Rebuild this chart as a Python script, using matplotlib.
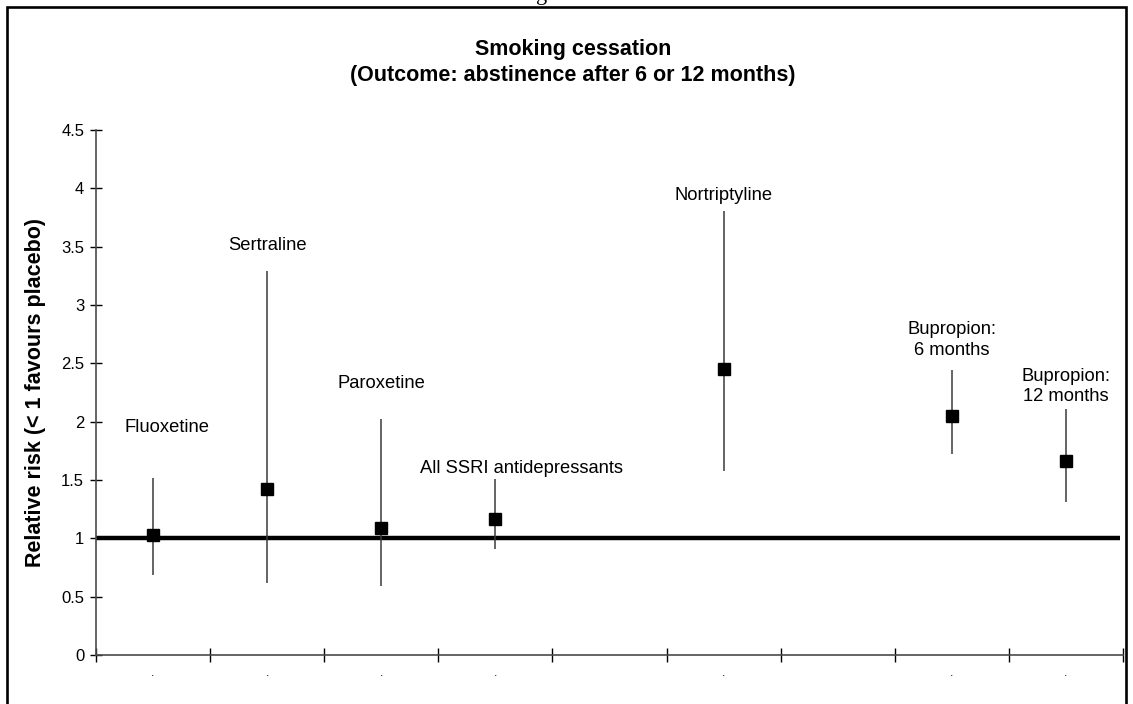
import matplotlib
matplotlib.use("Agg")
import matplotlib.pyplot as plt
from matplotlib.patches import Rectangle

plt.rcParams["font.family"] = ["Liberation Sans", "DejaVu Sans"]

# Relative risk of abstinence vs placebo, with 95% confidence limits
drugs = ["Fluoxetine", "Sertraline", "Paroxetine", "All SSRI antidepressants",
         "Nortriptyline", "Bupropion:\n6 months", "Bupropion:\n12 months"]
slots = [0, 1, 2, 3, 5, 7, 8]          # category slot of each drug (9 slots)
n_slots = 9
rr = [1.03, 1.42, 1.09, 1.17, 2.45, 2.05, 1.66]
ci_low = [0.69, 0.62, 0.59, 0.91, 1.58, 1.72, 1.31]
ci_high = [1.52, 3.29, 2.02, 1.51, 3.81, 2.44, 2.11]
y_ticks = [0, 0.5, 1, 1.5, 2, 2.5, 3, 3.5, 4, 4.5]
y_tick_labels = ["0", "0.5", "1", "1.5", "2", "2.5", "3", "3.5", "4", "4.5"]
no_effect = 1.0

# where each drug name sits (slot, relative-risk units)
label_xy = [(0.12, 1.95), (1.0, 3.51), (2.0, 2.33), (3.23, 1.60),
            (5.0, 3.94), (7.0, 2.70), (8.0, 2.30)]

W, H = 1133, 704
fig = plt.figure(figsize=(W / 100, H / 100), dpi=100)
ax = fig.add_axes([96 / W, 49 / H, 1027 / W, 525 / H])

# no-effect reference line
ax.plot([-0.5, 8.47], [no_effect, no_effect], color="black", lw=3.2,
        solid_capstyle="butt", zorder=2)

# confidence intervals and point estimates
ax.vlines(slots, ci_low, ci_high, color="#3a3a3a", lw=1.1, zorder=3)
ax.plot(slots, rr, linestyle="none", marker="s", markersize=8.8,
        color="black", zorder=4)

for name, (lx, ly) in zip(drugs, label_xy):
    ax.text(lx, ly, name, ha="center", va="center", fontsize=13.2,
            color="black", linespacing=1.25)

ax.set_xlim(-0.5, n_slots - 0.5)
ax.set_ylim(0, 4.5)

ax.set_yticks(y_ticks)
ax.set_yticklabels(y_tick_labels)
ax.tick_params(axis="y", direction="inout", length=9, width=1,
               labelsize=12, pad=4, colors="black")

# category boundaries carry the ticks; centres carry the (blank) labels
ax.set_xticks([i - 0.5 for i in range(n_slots + 1)])
ax.set_xticklabels([])
ax.set_xticks(list(range(n_slots)), minor=True)
ax.set_xticklabels(["." if i in slots else "" for i in range(n_slots)],
                   minor=True)
ax.tick_params(axis="x", which="major", direction="inout", length=10,
               width=1, colors="black")
ax.tick_params(axis="x", which="minor", length=0, labelsize=9, pad=9)

for side in ("top", "right"):
    ax.spines[side].set_visible(False)
for side in ("left", "bottom"):
    ax.spines[side].set_color("#4a4a4a")
    ax.spines[side].set_linewidth(1.2)

ax.set_ylabel("Relative risk (< 1 favours placebo)", fontsize=15.5,
              fontweight="bold", labelpad=14)
ax.yaxis.set_label_coords(-50 / 1027, 0.5)

fig.text(573 / W, 1 - 50 / H, "Smoking cessation", ha="center",
         va="center", fontsize=15.5, fontweight="bold")
fig.text(573 / W, 1 - 76 / H, "(Outcome: abstinence after 6 or 12 months)",
         ha="center", va="center", fontsize=15.5, fontweight="bold")

# chart border
fig.add_artist(Rectangle((7 / W, -0.05), (1126 - 7) / W, 1.05 - 7 / H,
                         transform=fig.transFigure, fill=False,
                         edgecolor="black", lw=1.9, clip_on=False))
# descender of the caption above the chart
fig.text(542 / W, 1.0, "g", ha="center", va="baseline", fontsize=16,
         family="Liberation Serif")

fig.savefig("out.png", dpi=100)
